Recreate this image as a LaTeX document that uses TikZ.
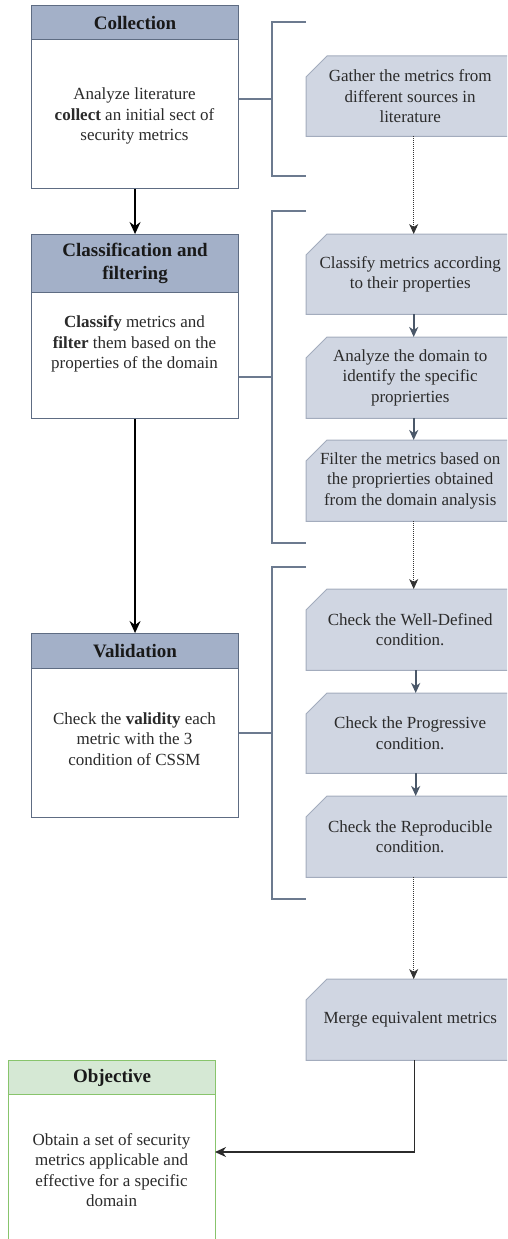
\documentclass[tikz,border=0pt]{standalone}
\usepackage{fontspec}
\setmainfont{Liberation Serif}
\usetikzlibrary{arrows.meta,calc,backgrounds}
\definecolor{headfill}{HTML}{A3B0C8}
\definecolor{lanestroke}{HTML}{5E6C83}
\definecolor{stepfill}{HTML}{D0D6E2}
\definecolor{stepstroke}{HTML}{A3ACBD}
\definecolor{bracketcol}{HTML}{6C7A8F}
\definecolor{arrowcol}{HTML}{4B5869}
\definecolor{goalfill}{HTML}{D5E8D4}
\definecolor{goalstroke}{HTML}{88C46C}
\definecolor{txt}{HTML}{2B2B2B}
\begin{document}
\begin{tikzpicture}[x=1pt,y=-1pt,
  lanehead/.style={draw=lanestroke, fill=headfill, line width=1.1pt, anchor=north west,
    minimum width=207pt, inner sep=0pt, align=center,
    font=\fontsize{19}{23}\selectfont\bfseries, text=black!90},
  lanebody/.style={draw=lanestroke, fill=white, line width=1.1pt, anchor=north west,
    minimum width=207pt, inner sep=0pt},
  goalhead/.style={lanehead, draw=goalstroke, fill=goalfill},
  goalbody/.style={lanebody, draw=goalstroke},
  bodytext/.style={align=center, font=\fontsize{17}{20.5}\selectfont, text=txt, inner sep=0pt},
  stepbox/.style={anchor=north west, minimum width=208pt, inner sep=0pt, align=center,
    font=\fontsize{17}{20.5}\selectfont, text=txt},
  bracket/.style={draw=bracketcol, line width=1.3pt},
  flow/.style={draw=black, line width=1.4pt, -{Stealth[length=12pt,width=11pt,inset=4pt]}},
  substep/.style={draw=arrowcol, line width=1.6pt, -{Stealth[length=10pt,width=9pt,inset=3pt]}},
  handoff/.style={draw=black!80, line width=0.9pt, dash pattern=on 1pt off 1pt,
    -{Stealth[length=10pt,width=9pt,inset=3pt]}},
  result/.style={draw=txt, line width=1.3pt, -{Stealth[length=11pt,width=10pt,inset=3.5pt]}}
]
\useasboundingbox (0,0) rectangle (507,1239);
\clip (0,0) rectangle (507,1239);

% ---- phases (left column)
\node[lanehead, minimum height=34pt] (colH) at (31,5) {Collection};
\node[lanebody, minimum height=149pt] (colB) at (31,39) {};
\node[bodytext] (colT) at (134.5,116) {Analyze literature\\\textbf{collect} an initial sect of\\security metrics};

\node[lanehead, minimum height=58pt] (clsH) at (31,234) {Classification and\\filtering};
\node[lanebody, minimum height=126pt] (clsB) at (31,292) {};
\node[bodytext] (clsT) at (134.5,344) {\textbf{Classify} metrics and\\\textbf{filter} them based on the\\properties of the domain};

\node[lanehead, minimum height=35pt] (valH) at (31,633) {Validation};
\node[lanebody, minimum height=149pt] (valB) at (31,668) {};
\node[bodytext] (valT) at (134.5,739) {Check the \textbf{validity} each\\metric with the 3\\condition of CSSM};

\node[goalhead, minimum height=34pt] (objH) at (8,1060) {Objective};
\node[goalbody, minimum height=170pt] (objB) at (8,1094) {};
\node[bodytext] (objT) at (111.5,1170) {Obtain a set of security\\metrics applicable and\\effective for a specific\\domain};
\coordinate (objIn) at (215,1152);

% ---- steps (right column)
\node[stepbox, minimum height=80pt] (gat) at (306,56) {Gather the metrics from\\different sources in\\literature};
\node[stepbox, minimum height=80pt] (cla) at (306,234) {Classify metrics according\\to their properties};
\node[stepbox, minimum height=81pt] (ana) at (306,337) {Analyze the domain to\\identify the specific\\proprierties};
\node[stepbox, minimum height=81pt] (fil) at (306,440) {Filter the metrics based on\\the proprierties obtained\\from the domain analysis};
\node[stepbox, minimum height=81pt] (wd) at (306,589) {Check the Well-Defined\\condition.};
\node[stepbox, minimum height=80pt] (pg) at (306,693) {Check the Progressive\\condition.};
\node[stepbox, minimum height=81pt] (rp) at (306,796) {Check the Reproducible\\condition.};
\node[stepbox, minimum height=81pt] (mrg) at (306,979) {Merge equivalent metrics};

\begin{scope}[on background layer]
  \clip (0,0) rectangle (507,1239);
  \foreach \n in {gat,cla,ana,fil,wd,pg,rp,mrg}{
    \draw[draw=stepstroke, fill=stepfill, line width=1pt]
      (\n.south west) -- ($(\n.north west)+(0,21)$) -- ($(\n.north west)+(21,0)$)
      -- (\n.north east) -- (\n.south east) -- cycle;
  }
\end{scope}

% ---- brackets grouping the steps of each phase
\coordinate (b1t) at (306,22);  \coordinate (b1b) at (306,176); \coordinate (b1m) at (272,99);
\coordinate (b2t) at (306,211); \coordinate (b2b) at (306,543); \coordinate (b2m) at (272,377);
\coordinate (b3t) at (306,567); \coordinate (b3b) at (306,899); \coordinate (b3m) at (272,733);
\foreach \b in {1,2,3}{
  \draw[bracket] (b\b t) -- (b\b m |- b\b t) -- (b\b m |- b\b b) -- (b\b b);
}
\draw[bracket] (colB.east |- b1m) -- (b1m);
\draw[bracket] (clsB.east |- b2m) -- (b2m);
\draw[bracket] (valB.east |- b3m) -- (b3m);

% ---- main flow
\draw[flow] (colB.south) -- (clsH.north);
\draw[flow] (clsB.south) -- (valH.north);

% ---- step flow
\draw[handoff] ([xshift=3.5pt]gat.south) -- ([xshift=3.5pt]cla.north);
\draw[substep] ([xshift=3.5pt]cla.south) -- ([xshift=3.5pt]ana.north);
\draw[substep] ([xshift=3.5pt]ana.south) -- ([xshift=3.5pt]fil.north);
\draw[handoff] ([xshift=3.5pt]fil.south) -- ([xshift=3.5pt]wd.north);
\draw[substep] ([xshift=5.5pt]wd.south) -- ([xshift=5.5pt]pg.north);
\draw[substep] ([xshift=5.5pt]pg.south) -- ([xshift=5.5pt]rp.north);
\draw[handoff] ([xshift=3.5pt]rp.south) -- ([xshift=3.5pt]mrg.north);
\draw[result] ([xshift=4.5pt]mrg.south) |- (objIn);
\end{tikzpicture}
\end{document}
